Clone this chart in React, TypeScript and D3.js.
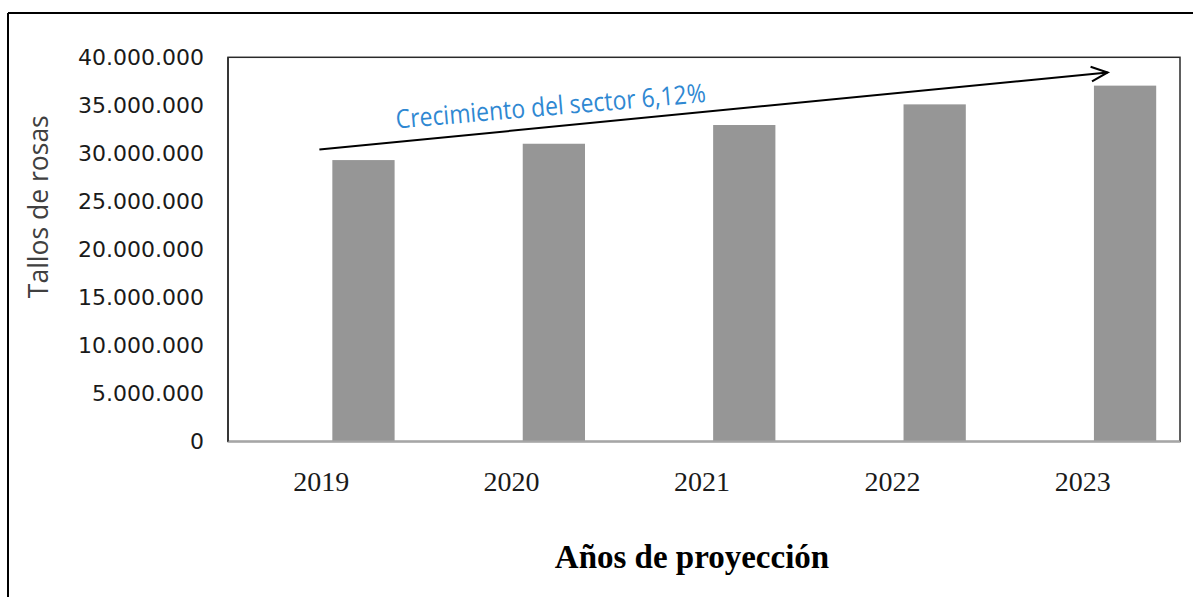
import React from "react";
import * as d3 from "d3";

const categories = ["2019", "2020", "2021", "2022", "2023"];
const values = [29300000, 31000000, 32950000, 35100000, 37050000];
const yTicks = [0, 5000000, 10000000, 15000000, 20000000, 25000000, 30000000, 35000000, 40000000];
const yTitle = "Tallos de rosas";
const xTitle = "Años de proyección";
const growthLabel = "Crecimiento del sector 6,12%";
// arrow annotation anchors in data space: [category, position within band, value]
const arrowStart: [string, number, number] = ["2019", 0.48, 30400000];
const arrowEnd: [string, number, number] = ["2023", 0.62, 38420000];

const W = 1193;
const H = 597;
const M = { left: 228, top: 57.3, right: 1180, bottom: 441.5 };

const esLocale = d3.formatLocale({ decimal: ",", thousands: ".", grouping: [3], currency: ["", "€"] });
const fmt = esLocale.format(",d");

export default function App() {
  const x = d3.scaleBand<string>().domain(categories).range([M.left, M.right]).padding(0);
  const y = d3.scaleLinear().domain([0, 40000000]).range([M.bottom, M.top]);
  const bw = x.bandwidth();

  const ax = (x(arrowStart[0]) as number) + arrowStart[1] * bw;
  const ay = y(arrowStart[2]);
  const bx = (x(arrowEnd[0]) as number) + arrowEnd[1] * bw;
  const by = y(arrowEnd[2]);
  const ang = Math.atan2(by - ay, bx - ax);
  const head = 18;
  const spread = 0.42;
  const h1 = [bx - head * Math.cos(ang - spread), by - head * Math.sin(ang - spread)];
  const h2 = [bx - head * Math.cos(ang + spread), by - head * Math.sin(ang + spread)];

  const tx = (x("2019") as number) + 0.885 * bw;
  const ty = y(30400000) - 21;

  return (
    <svg
      width={W}
      height={H}
      style={{ position: "absolute", left: 0, top: 0, display: "block", background: "#fff" }}
    >
      <rect x={0} y={0} width={W} height={H} fill="#fff" />
      {/* outer frame */}
      <line x1={8} y1={13} x2={W} y2={13} stroke="#000" strokeWidth={2} />
      <line x1={8} y1={13} x2={8} y2={H} stroke="#000" strokeWidth={2} />

      {/* plot area */}
      <rect
        x={M.left}
        y={M.top}
        width={M.right - M.left}
        height={M.bottom - M.top}
        fill="#fff"
        stroke="#2a2a2a"
        strokeWidth={1.5}
      />

      {/* bars */}
      {categories.map((c, i) => (
        <rect
          key={c}
          x={(x(c) as number) + 0.548 * bw}
          y={y(values[i])}
          width={0.327 * bw}
          height={y(0) - y(values[i])}
          fill="#969696"
        />
      ))}

      {/* bottom axis line */}
      <line x1={M.left} y1={M.bottom} x2={M.right} y2={M.bottom} stroke="#a6a6a6" strokeWidth={2} />
      <line x1={M.left} y1={M.top} x2={M.left} y2={M.bottom} stroke="#2a2a2a" strokeWidth={1.5} />

      {/* y tick labels */}
      {yTicks.map((t) => (
        <text
          key={t}
          x={204}
          y={y(t)}
          dy="0.36em"
          textAnchor="end"
          fontFamily="'DejaVu Sans', sans-serif"
          fontSize={22}
          fill="#1a1a1a"
        >
          {fmt(t)}
        </text>
      ))}

      {/* x tick labels */}
      {categories.map((c) => (
        <text
          key={c}
          x={(x(c) as number) + bw / 2 - 2}
          y={491}
          textAnchor="middle"
          fontFamily="'Liberation Serif', 'Times New Roman', serif"
          fontSize={28}
          fill="#1a1a1a"
        >
          {c}
        </text>
      ))}

      {/* axis titles */}
      <text
        transform={`translate(48,206.7) rotate(-90)`}
        textAnchor="middle"
        fontFamily="'Open Sans', sans-serif"
        fontSize={26.5}
        fill="#404040"
      >
        {yTitle}
      </text>
      <text
        x={692}
        y={568}
        textAnchor="middle"
        fontFamily="'Liberation Serif', 'Times New Roman', serif"
        fontWeight="bold"
        fontSize={33}
        fill="#000"
      >
        {xTitle}
      </text>

      {/* growth arrow */}
      <line x1={ax} y1={ay} x2={bx} y2={by} stroke="#000" strokeWidth={2} />
      <polyline
        points={`${h1[0]},${h1[1]} ${bx},${by} ${h2[0]},${h2[1]}`}
        fill="none"
        stroke="#000"
        strokeWidth={2}
      />
      <text
        transform={`translate(${tx},${ty}) rotate(-4.9)`}
        fontFamily="'Open Sans', sans-serif"
        fontSize={26}
        textLength={311}
        lengthAdjust="spacingAndGlyphs"
        fill="#2f88d2"
      >
        {growthLabel}
      </text>
    </svg>
  );
}
